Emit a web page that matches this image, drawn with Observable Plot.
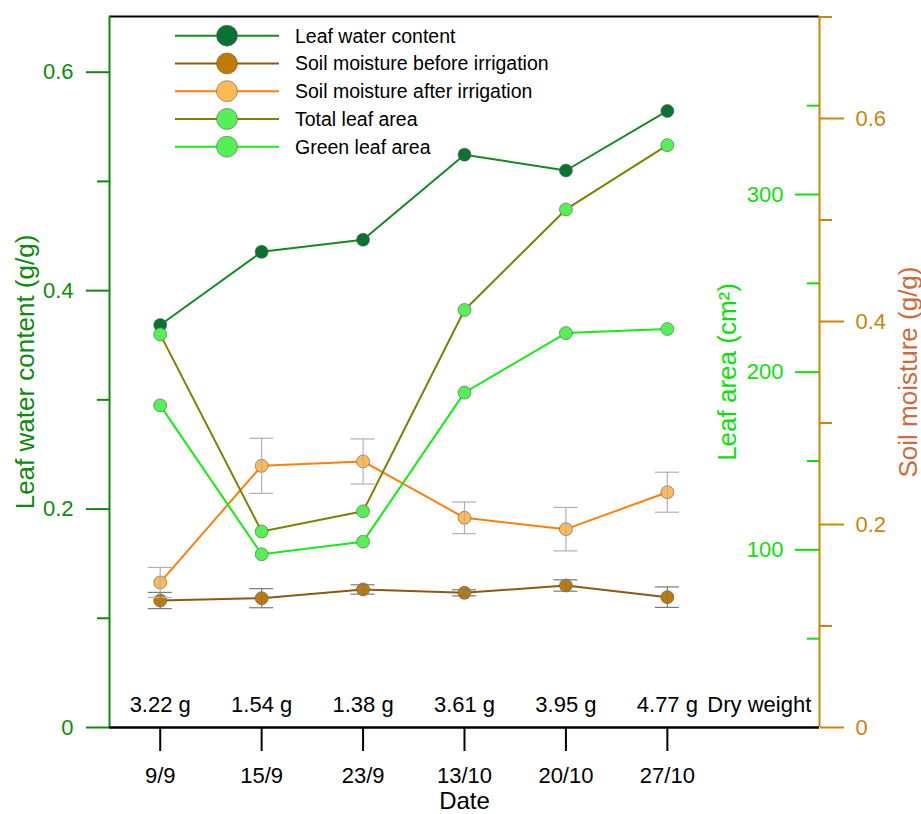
<!DOCTYPE html>
<html><head><meta charset="utf-8">
<script src="https://cdn.jsdelivr.net/npm/d3@7"></script>
<script src="https://cdn.jsdelivr.net/npm/@observablehq/plot@0.6"></script>
<style>body{margin:0;background:#fff}#chart{width:921px;height:814px}</style>
</head><body><div id="chart"></div>
<script>
// ---- data ----
const dates = ["9/9","15/9","23/9","13/10","20/10","27/10"];
const dryWeight = ["3.22 g","1.54 g","1.38 g","3.61 g","3.95 g","4.77 g"];
const leafWater = [0.3685,0.4355,0.4466,0.5245,0.510,0.5645];          // g/g (left axis)
const soilBefore = [0.1251,0.1274,0.1360,0.1327,0.1399,0.1284];        // g/g (soil axis)
const soilBeforeErr = [0.008,0.0094,0.0046,0.003,0.0056,0.0101];
const soilAfter = [0.1429,0.2578,0.2621,0.2066,0.1954,0.2318];
const soilAfterErr = [0.0148,0.0271,0.0222,0.0156,0.0214,0.0197];
const totalLeafArea = [221.3,110.3,121.7,235.0,291.6,327.8];           // cm2 (leaf area axis)
const greenLeafArea = [181.3,97.5,104.6,188.5,222.0,224.3];
const seriesNames = ["Leaf water content","Soil moisture before irrigation","Soil moisture after irrigation","Total leaf area","Green leaf area"];
const lwcTicks = [0,0.2,0.4,0.6], lwcMinor = [0.1,0.3,0.5];
const areaTicks = [100,200,300], areaMinor = [50,150,250,350];
const soilTicks = [0,0.2,0.4,0.6], soilMinor = [0.1,0.3,0.5,0.7];

// ---- styling ----
const C = {
  lwcLine:"#138a22", lwcFill:"#0a7332",
  sbLine:"#8a5a10", sbFill:"#c07a00",
  saLine:"#ff7f0a", saFill:"#ffba55",
  tlaLine:"#808000", tlaFill:"#55f055",
  glaLine:"#11ee11", glaFill:"#55f055",
  axL:"#0e8a0e", axA:"#0be00b", axS:"#c8860a", titleS:"#cf6a3c"
};
const yMax = 0.651, areaMax = 400.2, soilMax = 0.7005;
const kA = yMax/areaMax, kS = yMax/soilMax;
const W=921, H=814, mL=109, mR=102, mT=16, mB=87;
const innerW = W-mL-mR;
const xDom = [-0.5, dates.length+0.5];
const cap = 12/(innerW/(xDom[1]-xDom[0]));
const FONT = "'Liberation Sans', Arial, sans-serif";
const TICK = 22, TITLE = 26;

const rows = dates.map((d,i)=>({
  i, date:d, dw:dryWeight[i],
  lwc:leafWater[i],
  sb:soilBefore[i]*kS, sbLo:(soilBefore[i]-soilBeforeErr[i])*kS, sbHi:(soilBefore[i]+soilBeforeErr[i])*kS,
  sa:soilAfter[i]*kS, saLo:(soilAfter[i]-soilAfterErr[i])*kS, saHi:(soilAfter[i]+soilAfterErr[i])*kS,
  tla:totalLeafArea[i]*kA, gla:greenLeafArea[i]*kA
}));

const series = [
  {key:"lwc", line:C.lwcLine, fill:C.lwcFill},
  {key:"sb", line:C.sbLine, fill:C.sbFill},
  {key:"sa", line:C.saLine, fill:C.saFill},
  {key:"tla", line:C.tlaLine, fill:C.tlaFill},
  {key:"gla", line:C.glaLine, fill:C.glaFill}
];

const marks = [];
marks.push(Plot.ruleY([yMax], {stroke:"#000", strokeWidth:2}));
for (const s of series) {
  marks.push(Plot.line(rows, {x:"i", y:s.key, stroke:s.line, strokeWidth:2}));
  marks.push(Plot.dot(rows, {x:"i", y:s.key, r:6.5, fill:s.fill, stroke:"#5a5a5a", strokeWidth:0.6}));
}
const err = (lo, hi, col) => [
  Plot.ruleX(rows, {x:"i", y1:lo, y2:hi, stroke:col, strokeWidth:1.2}),
  Plot.ruleY(rows, {y:lo, x1:d=>d.i-cap, x2:d=>d.i+cap, stroke:col, strokeWidth:1.2}),
  Plot.ruleY(rows, {y:hi, x1:d=>d.i-cap, x2:d=>d.i+cap, stroke:col, strokeWidth:1.2})
];
marks.push(...err("saLo","saHi","#b0b0b0"));
marks.push(...err("sbLo","sbHi","#7a7a7a"));

marks.push(
  Plot.axisY(lwcTicks, {anchor:"left", tickSize:23, tickPadding:13, color:C.axL, strokeWidth:2, fontSize:TICK, tickFormat:d=>String(d), label:null}),
  Plot.axisY(lwcMinor, {anchor:"left", tickSize:12, color:C.axL, strokeWidth:2, tickFormat:()=>"", label:null}),
  Plot.axisY(areaTicks, {anchor:"left", y:d=>d*kA, dx:innerW, tickSize:24, tickPadding:12, color:C.axA, strokeWidth:2, fontSize:TICK, tickFormat:d=>String(d), label:null}),
  Plot.axisY(areaMinor, {anchor:"left", y:d=>d*kA, dx:innerW, tickSize:12, color:C.axA, strokeWidth:2, tickFormat:()=>"", label:null}),
  Plot.axisY(soilTicks, {anchor:"right", y:d=>d*kS, tickSize:24, tickPadding:12, color:C.axS, strokeWidth:2, fontSize:TICK, tickFormat:d=>String(d), label:null}),
  Plot.axisY(soilMinor, {anchor:"right", y:d=>d*kS, tickSize:12, color:C.axS, strokeWidth:2, tickFormat:()=>"", label:null}),
  Plot.axisX(d3.range(dates.length), {anchor:"bottom", tickSize:24, tickPadding:16, strokeWidth:2, fontSize:TICK, tickFormat:i=>dates[i], label:null, color:"#000"}),
  Plot.ruleX([xDom[0]], {stroke:C.axL, strokeWidth:2}),
  Plot.ruleX([xDom[1]], {stroke:C.axS, strokeWidth:2}),
  Plot.ruleY([0], {stroke:"#000", strokeWidth:2.5}),
  Plot.text(["Leaf water content (g/g)"], {frameAnchor:"left", dx:-84, rotate:-90, textAnchor:"middle", lineAnchor:"middle", fill:C.axL, fontSize:TITLE}),
  Plot.text(["Leaf area (cm²)"], {frameAnchor:"right", dx:-92, rotate:-90, textAnchor:"middle", lineAnchor:"middle", fill:C.axA, fontSize:TITLE}),
  Plot.text(["Soil moisture (g/g)"], {frameAnchor:"right", dx:89, rotate:-90, textAnchor:"middle", lineAnchor:"middle", fill:C.titleS, fontSize:TITLE}),
  Plot.text(["Date"], {frameAnchor:"bottom", dy:74, textAnchor:"middle", lineAnchor:"middle", fill:"#000", fontSize:24}),
  Plot.text(rows, {x:"i", text:"dw", frameAnchor:"bottom", dy:-23, lineAnchor:"middle", textAnchor:"middle", fontSize:TICK, fill:"#000"}),
  Plot.text(["Dry weight"], {x:[dates.length-1], frameAnchor:"bottom", dy:-23, dx:40, lineAnchor:"middle", textAnchor:"start", fontSize:TICK, fill:"#000"})
);

const chart = Plot.plot({
  width:W, height:H, marginLeft:mL, marginRight:mR, marginTop:mT, marginBottom:mB,
  x:{domain:xDom, axis:null},
  y:{domain:[0,yMax], axis:null},
  style:{fontFamily:FONT, background:"#fff", overflow:"visible"},
  marks
});
document.getElementById("chart").appendChild(chart);

// legend (inside plot, top-left)
const g = d3.select(chart).append("g").attr("font-family", FONT).attr("font-size", 19.5).attr("text-anchor","start");
series.forEach((s, k) => {
  const y = 35.7 + k*27.75;
  g.append("line").attr("x1",175).attr("x2",279).attr("y1",y).attr("y2",y).attr("stroke",s.line).attr("stroke-width",2);
  g.append("circle").attr("cx",227).attr("cy",y).attr("r",10.5).attr("fill",s.fill).attr("stroke","#5a5a5a").attr("stroke-width",0.6);
  g.append("text").attr("x",295).attr("y",y).attr("dy","0.35em").attr("text-anchor","start").attr("fill","#000").text(seriesNames[k]);
});
</script></body></html>
